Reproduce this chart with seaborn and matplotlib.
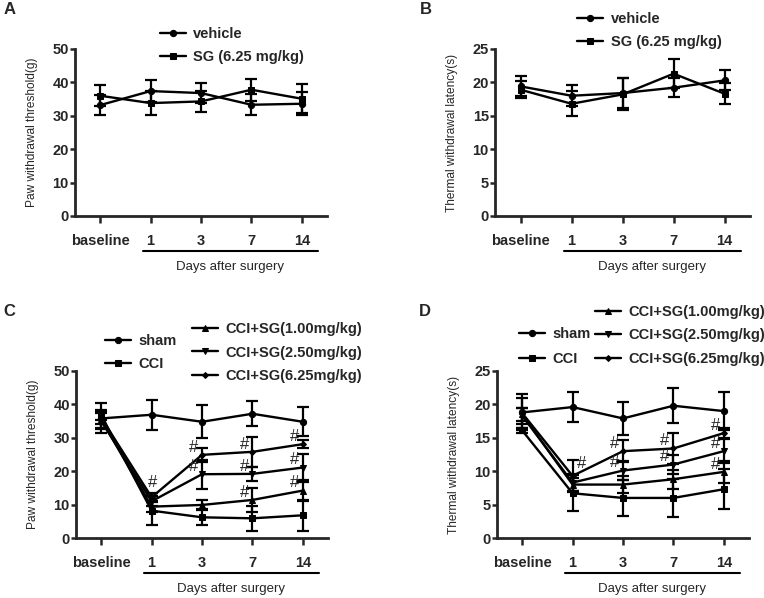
import numpy as np
import pandas as pd
import matplotlib
matplotlib.use('Agg')
import matplotlib.pyplot as plt
import matplotlib.transforms as mtransforms
import seaborn as sns

days = ['baseline', '1', '3', '7', '14']

# A: paw withdrawal threshold (g), normal rats
a_vehicle = [33.2, 37.4, 36.8, 33.3, 33.6]
a_vehicle_err = [3.0, 3.2, 3.0, 3.1, 3.4]
a_sg = [36.0, 33.8, 34.3, 37.8, 35.1]
a_sg_err = [3.1, 3.6, 3.1, 3.3, 4.3]

# B: thermal withdrawal latency (s), normal rats
b_vehicle = [19.4, 18.0, 18.4, 19.2, 20.3]
b_vehicle_err = [1.5, 1.6, 2.3, 1.4, 1.5]
b_sg = [18.9, 16.8, 18.2, 21.3, 18.3]
b_sg_err = [1.3, 1.9, 2.4, 2.2, 1.6]

# C: paw withdrawal threshold (g), CCI model
c_sham = [35.8, 36.9, 34.8, 37.2, 34.8]
c_sham_err = [4.5, 4.5, 4.9, 3.8, 4.3]
c_cci = [36.8, 8.2, 6.2, 5.9, 6.8]
c_cci_err = [1.5, 4.3, 2.4, 3.8, 4.6]
c_sg100 = [35.5, 9.4, 9.9, 11.4, 14.2]
c_sg100_err = [2.5, 1.5, 1.4, 3.6, 3.2]
c_sg250 = [35.0, 11.0, 19.1, 19.2, 21.1]
c_sg250_err = [2.5, 1.5, 4.3, 2.2, 4.2]
c_sg625 = [36.0, 12.2, 24.9, 25.8, 28.1]
c_sg625_err = [2.0, 1.2, 2.1, 4.5, 1.3]

# D: thermal withdrawal latency (s), CCI model
d_sham = [18.8, 19.6, 17.9, 19.8, 19.0]
d_sham_err = [2.7, 2.3, 2.5, 2.6, 2.8]
d_cci = [16.1, 6.7, 6.0, 6.0, 7.3]
d_cci_err = [0.4, 2.7, 2.7, 2.8, 3.0]
d_sg100 = [18.5, 8.0, 8.0, 8.8, 9.9]
d_sg100_err = [1.0, 1.0, 1.3, 1.4, 1.6]
d_sg250 = [18.3, 8.3, 10.1, 11.0, 13.0]
d_sg250_err = [1.2, 1.3, 1.4, 1.4, 1.8]
d_sg625 = [18.7, 9.3, 13.0, 13.4, 15.7]
d_sg625_err = [2.3, 2.4, 1.6, 2.3, 0.8]

# '#' marks: (series values, day index)
c_hash = [(c_sg625, 1), (c_sg625, 2), (c_sg250, 2), (c_sg625, 3), (c_sg250, 3),
          (c_sg100, 3), (c_sg625, 4), (c_sg250, 4), (c_sg100, 4)]
d_hash = [(d_sg625, 1), (d_sg625, 2), (d_sg250, 2), (d_sg625, 3), (d_sg250, 3),
          (d_sg625, 4), (d_sg250, 4), (d_sg100, 4)]

sns.set_style('ticks')
plt.rcParams['font.family'] = ['Liberation Sans', 'DejaVu Sans']

fig = plt.figure(figsize=(7.64, 5.98), dpi=100)
axA = fig.add_axes([0.0982, 0.6388, 0.3298, 0.2793])
axB = fig.add_axes([0.6480, 0.6388, 0.3338, 0.2793])
axC = fig.add_axes([0.0995, 0.1003, 0.3298, 0.2793])
axD = fig.add_axes([0.6505, 0.1003, 0.3298, 0.2793])

x = np.arange(len(days))


def draw(ax, series, ymax, ystep, ylabel):
    for name, vals, errs, mk, ms in series:
        ax.errorbar(x, vals, yerr=errs, fmt='none', ecolor='black',
                    elinewidth=1.6, capsize=4.5, capthick=1.6, zorder=2)
        sns.lineplot(x=x, y=vals, ax=ax, color='black', marker=mk,
                     markersize=ms, markeredgecolor='black', linewidth=1.7,
                     label=name, zorder=3)
    ax.set_xlim(-0.5, 4.5)
    ax.set_ylim(0, ymax)
    ax.set_yticks(np.arange(0, ymax + 1, ystep))
    ax.set_xticks(x)
    ax.set_xticklabels(days)
    sns.despine(ax=ax)
    for s in ['left', 'bottom']:
        ax.spines[s].set_linewidth(2)
    ax.tick_params(axis='x', length=5, width=1.8, pad=8, labelsize=10.5)
    ax.tick_params(axis='y', length=3.5, width=1.8, pad=1, labelsize=10.5)
    for t in ax.get_xticklabels() + ax.get_yticklabels():
        t.set_fontweight('bold')
    ax.set_xlabel('')
    ax.set_ylabel(ylabel, fontsize=8.6)
    ax.yaxis.set_label_coords(-0.145, 0.5)
    trans = mtransforms.blended_transform_factory(ax.transData, ax.transAxes)
    ax.plot([0.85, 4.33], [-0.21, -0.21], transform=trans, clip_on=False,
            color='black', lw=1.5)
    ax.text(2.58, -0.305, 'Days after surgery', transform=trans,
            ha='center', va='center', fontsize=9.5)
    if ax.get_legend() is not None:
        ax.get_legend().remove()


def legend(ax, idx, bx, by, gap=0.65):
    h, l = ax.get_legend_handles_labels()
    lg = ax.legend([h[i] for i in idx], [l[i] for i in idx], loc='upper left',
                   bbox_to_anchor=(bx, by), bbox_transform=fig.transFigure,
                   frameon=False, borderpad=0, borderaxespad=0,
                   handlelength=1.8, handletextpad=0.5, labelspacing=gap,
                   prop={'weight': 'bold', 'size': 10.5})
    return lg


def hashes(ax, marks, first_off):
    for vals, d in marks:
        off = first_off if d == 1 else (-6, 5.5)
        ax.annotate('#', (x[d], vals[d]), xytext=off, textcoords='offset points',
                    ha='center', va='center', fontsize=12)


draw(axA, [('vehicle', a_vehicle, a_vehicle_err, 'o', 4.5),
           ('SG (6.25 mg/kg)', a_sg, a_sg_err, 's', 5)],
     50, 10, 'Paw withdrawal threshold(g)')
legend(axA, [0, 1], 0.209, 0.955)

draw(axB, [('vehicle', b_vehicle, b_vehicle_err, 'o', 4.5),
           ('SG (6.25 mg/kg)', b_sg, b_sg_err, 's', 5)],
     25, 5, 'Thermal withdrawal latency(s)')
legend(axB, [0, 1], 0.7552, 0.98)

groups = ['sham', 'CCI', 'CCI+SG(1.00mg/kg)', 'CCI+SG(2.50mg/kg)', 'CCI+SG(6.25mg/kg)']
marks = [('o', 4.5), ('s', 5), ('^', 4.5), ('v', 4.5), ('D', 3)]

draw(axC, [(g, v, e, m[0], m[1]) for g, v, e, m in zip(
    groups, [c_sham, c_cci, c_sg100, c_sg250, c_sg625],
    [c_sham_err, c_cci_err, c_sg100_err, c_sg250_err, c_sg625_err], marks)],
    50, 10, 'Paw withdrawal threshold(g)')
lg = legend(axC, [0, 1], 0.137, 0.4415)
axC.add_artist(lg)
legend(axC, [2, 3, 4], 0.2513, 0.4615)
hashes(axC, c_hash, (0.5, 10.5))

draw(axD, [(g, v, e, m[0], m[1]) for g, v, e, m in zip(
    groups, [d_sham, d_cci, d_sg100, d_sg250, d_sg625],
    [d_sham_err, d_cci_err, d_sg100_err, d_sg250_err, d_sg625_err], marks)],
    25, 5, 'Thermal withdrawal latency(s)')
lg = legend(axD, [0, 1], 0.6793, 0.453, gap=0.72)
axD.add_artist(lg)
legend(axD, [2, 3, 4], 0.7788, 0.49)
hashes(axD, d_hash, (6.5, 9))

for lab, px, py in [('A', 10, 10), ('B', 426, 9), ('C', 9, 312), ('D', 425, 311)]:
    fig.text(px / 764, 1 - py / 598, lab, ha='center', va='center',
             fontsize=12, fontweight='bold')

fig.savefig('out.png', dpi=100)
